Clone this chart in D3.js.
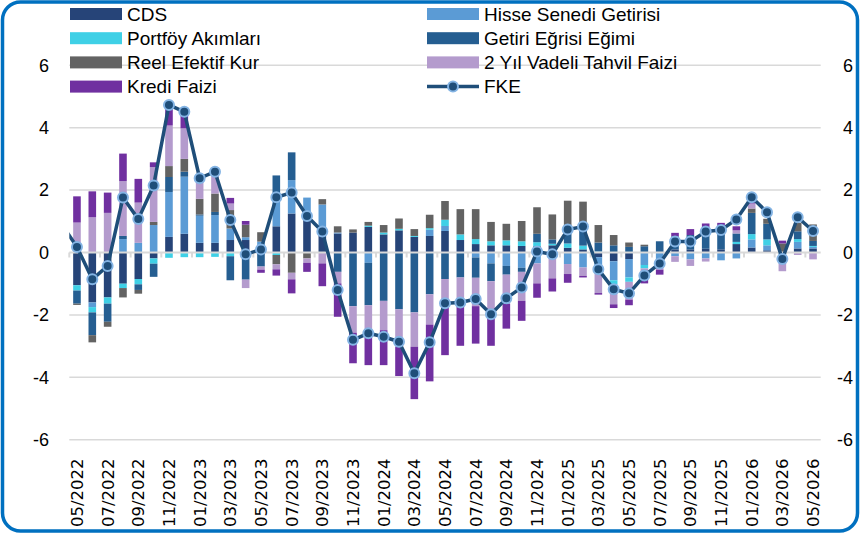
<!DOCTYPE html>
<html>
<head>
<meta charset="utf-8">
<script src="https://cdn.jsdelivr.net/npm/d3@7"></script>
<style>
  html, body { margin: 0; padding: 0; background: #fff; }
  svg { display: block; }
</style>
</head>
<body>
<svg id="chart"></svg>
<script>
const width = 862, height = 536;

// months on the category axis
const months = ['05/2022','06/2022','07/2022','08/2022','09/2022','10/2022','11/2022','12/2022',
  '01/2023','02/2023','03/2023','04/2023','05/2023','06/2023','07/2023','08/2023','09/2023','10/2023','11/2023','12/2023',
  '01/2024','02/2024','03/2024','04/2024','05/2024','06/2024','07/2024','08/2024','09/2024','10/2024','11/2024','12/2024',
  '01/2025','02/2025','03/2025','04/2025','05/2025','06/2025','07/2025','08/2025','09/2025','10/2025','11/2025','12/2025',
  '01/2026','02/2026','03/2026','04/2026','05/2026'];

const cds    = [-1.05,-1.6,-1.44,-1.0,-0.85,-0.19,0.5,0.6, 0.31,0.31,0.4,0.4,0.05,0.84,1.25,1.09,0.6,0.61,0.64,0.82,
  0.58,0.71,0.5,0.53,0.69,0.4,0.27,0.23,0.23,0.21,0.2,0.23, 0.15,0.1,-0.15,-0.28,-0.21,0,0,0.1,0.1,0.12,0.1,0.27, 0.16,0.07,0,0.13,0.13];
const hisse  = [0,-0.15,0,0.43,0.31,0.88,1.44,1.83, 0.87,0.89,0.37,0.09,0.3,0.83,1.07,0.67,0.94,0.03,0,-0.33,
  0,0,0,0.2,0.16,0,-0.16,-0.35,-0.43,-0.49,-0.35,-0.05, -0.37,-0.48,-0.45,-0.61,-0.59,-0.4,-0.45,-0.12,-0.22,-0.19,-0.25,-0.19, 0.26,0.16,-0.2,0.21,0.05];
const portfoy = [-0.17,-0.17,-0.2,-0.14,-0.17,-0.17,-0.17,-0.15, -0.15,-0.14,-0.12,0,0,-0.08,0,0,0,0,0,0.04,
  0.06,0.05,0.03,0.05,0.2,0.18,0.16,0.13,0.16,0.15,0.13,0.05, 0.14,0.12,0.03,-0.13,-0.14,-0.11,0,0,0,0,0,0.07, 0.17,0.19,0,0.09,0.03];
const getiri = [-0.42,-0.73,-0.58,0.1,-0.18,-0.42,0.48,0.16, 0.04,0.1,-0.77,-0.87,-0.45,0.8,0.89,0,0,-0.62,-1.72,-1.36,
  -1.55,-1.82,-1.92,-1.34,-0.85,-0.8,-0.65,-0.57,-0.28,-0.13,0.27,0.14, 0.55,0.66,0.29,0.23,0.18,0.2,0.36,0.42,0.46,0.62,0.62,0.27, 0.68,0.5,0,0.25,0.16];
const reel   = [-0.04,-0.23,-0.16,-0.3,-0.12,0.1,0.35,0.41, 0.5,0.59,0.59,0.4,0.3,-0.3,-0.65,-0.19,0.17,0.2,0.1,0.12,
  0.24,0.33,0.22,0.43,0.6,0.81,0.96,0.62,0.53,0.65,0.85,0.8, 0.82,0.75,0.56,0.33,0.14,0.05,0,0,0,0,0,0, 0.14,0.16,0.29,0.27,0.53];
const tahvil2y = [0.96,1.13,1.27,1.76,1.29,1.76,1.3,0.98, 0.65,0.75,0.21,-0.27,-0.1,-0.16,-0.21,-0.14,-0.35,-0.37,-0.85,-1.0,
  -0.94,-1.21,-1.1,-0.97,-0.78,-0.88,-0.91,-0.93,-0.93,-0.93,-0.64,-0.78, -0.32,-0.27,-0.7,-0.64,-0.57,-0.35,-0.1,-0.18,-0.21,-0.1,0.08,0.1, 0.16,0,-0.4,-0.08,-0.22];
const kredi  = [0.84,0.83,0.65,0.88,0.76,0.15,0.75,0.55, 0.1,0,0.18,0.12,-0.1,-0.2,-0.45,-0.29,-0.73,-1.07,-0.98,-0.92,
  -1.12,-0.93,-1.68,-1.82,-1.66,-1.31,-1.2,-1.14,-0.8,-0.64,-0.46,-0.42, -0.28,-0.05,-0.05,-0.12,-0.18,-0.13,-0.16,0.11,0.19,0.19,0.15,0.13, 0.06,0,0.09,0,0];
const fke    = [0.18,-0.86,-0.43,1.76,1.07,2.15,4.73,4.51, 2.38,2.59,1.04,-0.06,0.1,1.77,1.92,1.17,0.67,-1.2,-2.8,-2.59,
  -2.7,-2.86,-3.87,-2.88,-1.63,-1.6,-1.49,-1.98,-1.47,-1.12,0.03,-0.06, 0.74,0.83,-0.54,-1.18,-1.31,-0.74,-0.35,0.35,0.35,0.67,0.72,1.06, 1.77,1.29,-0.21,1.13,0.69];
const fkePrev = 0.9; // 04/2022, only the line segment entering the plot

const seriesNames = ['CDS','Hisse Senedi Getirisi','Portföy Akımları','Getiri Eğrisi Eğimi','Reel Efektif Kur','2 Yıl Vadeli Tahvil Faizi','Kredi Faizi'];
const seriesVals = [cds, hisse, portfoy, getiri, reel, tahvil2y, kredi];
const colors = ['#264478','#5B9BD5','#3FD0E6','#255E91','#636363','#B49BCD','#7030A0'];
const yTicks = [-6,-4,-2,0,2,4,6];

const svg = d3.select('#chart').attr('width', width).attr('height', height);

const x = d3.scaleLinear().domain([-0.5, months.length - 0.5]).range([69.3, 820.7]);
const y = d3.scaleLinear().domain([-6, 6]).range([439.7, 65.3]);
const barW = 7.6;

// frame
svg.append('rect').attr('x', 2.5).attr('y', 2).attr('width', 855).attr('height', 529)
  .attr('rx', 18).attr('fill', 'none').attr('stroke', '#0070C0').attr('stroke-width', 3.5);

// grid
svg.append('g').selectAll('line').data(yTicks.filter(d => d !== 0)).join('line')
  .attr('x1', x.range()[0]).attr('x2', x.range()[1])
  .attr('y1', d => y(d)).attr('y2', d => y(d))
  .attr('stroke', '#D9D9D9').attr('stroke-width', 1.5);

// y labels both sides
const yl = svg.append('g').style('font-family', 'Liberation Sans, Arial, sans-serif').style('font-size', '18px').attr('fill', '#000');
yl.selectAll('text.l').data(yTicks).join('text').attr('class', 'l')
  .attr('x', 49).attr('y', d => y(d)).attr('dy', '0.35em').attr('text-anchor', 'end').text(d => d);
yl.selectAll('text.r').data(yTicks).join('text').attr('class', 'r')
  .attr('x', 853).attr('y', d => y(d)).attr('dy', '0.35em').attr('text-anchor', 'end').text(d => d);

// stacked bars
const rows = months.map((m, i) => {
  const r = { i: i };
  seriesNames.forEach((s, k) => { r[s] = seriesVals[k][i]; });
  return r;
});
const stacked = d3.stack().keys(seriesNames).order(d3.stackOrderNone).offset(d3.stackOffsetDiverging)(rows);

svg.append('g').selectAll('g').data(stacked).join('g')
  .attr('fill', (d, k) => colors[k])
  .selectAll('rect').data(d => d).join('rect')
  .attr('x', d => x(d.data.i) - barW / 2)
  .attr('width', barW)
  .attr('y', d => y(Math.max(d[0], d[1])))
  .attr('height', d => Math.abs(y(d[0]) - y(d[1])));

// zero axis + ticks
svg.append('line').attr('x1', x.range()[0]).attr('x2', x.range()[1])
  .attr('y1', y(0)).attr('y2', y(0)).attr('stroke', '#D9D9D9').attr('stroke-width', 2);
svg.append('g').selectAll('line').data(d3.range(0, 25)).join('line')
  .attr('x1', k => x(-0.5 + 2 * k)).attr('x2', k => x(-0.5 + 2 * k))
  .attr('y1', y(0)).attr('y2', y(0) + 5)
  .attr('stroke', '#D9D9D9').attr('stroke-width', 2);

// FKE line
svg.append('clipPath').attr('id', 'plotClip').append('rect')
  .attr('x', x.range()[0]).attr('y', 0).attr('width', x.range()[1] - x.range()[0] + 10).attr('height', height);
const linePts = [[-1, fkePrev]].concat(fke.map((v, i) => [i, v]));
svg.append('path').datum(linePts)
  .attr('clip-path', 'url(#plotClip)')
  .attr('d', d3.line().x(d => x(d[0])).y(d => y(d[1])))
  .attr('fill', 'none').attr('stroke', '#1F4E79').attr('stroke-width', 3.5).attr('stroke-linejoin', 'round');
svg.append('g').selectAll('circle').data(fke).join('circle')
  .attr('cx', (d, i) => x(i)).attr('cy', d => y(d)).attr('r', 5)
  .attr('fill', '#1F4E79').attr('stroke', '#84B4E4').attr('stroke-width', 2);

// x labels (every 2 months)
svg.append('g').style('font-family', 'DejaVu Sans, Verdana, sans-serif').style('font-size', '16.5px')
  .selectAll('text').data(months.filter((m, i) => i % 2 === 0)).join('text')
  .attr('transform', (m) => `translate(${x(months.indexOf(m))},527) rotate(-90)`)
  .attr('dy', '0.36em').attr('text-anchor', 'start').text(m => m);

// legend
const legendItems = [
  { name: 'CDS', col: 0, row: 0, k: 0 },
  { name: 'Hisse Senedi Getirisi', col: 1, row: 0, k: 1 },
  { name: 'Portföy Akımları', col: 0, row: 1, k: 2 },
  { name: 'Getiri Eğrisi Eğimi', col: 1, row: 1, k: 3 },
  { name: 'Reel Efektif Kur', col: 0, row: 2, k: 4 },
  { name: '2 Yıl Vadeli Tahvil Faizi', col: 1, row: 2, k: 5 },
  { name: 'Kredi Faizi', col: 0, row: 3, k: 6 },
  { name: 'FKE', col: 1, row: 3, k: -1 }
];
const colX = [70, 427];
const lg = svg.append('g').style('font-family', 'Liberation Sans, Arial, sans-serif').style('font-size', '19px');
legendItems.forEach(it => {
  const gx = colX[it.col], gy = 14 + it.row * 24.2;
  if (it.k >= 0) {
    lg.append('rect').attr('x', gx).attr('y', gy - 6).attr('width', 52).attr('height', 12).attr('fill', colors[it.k]);
  } else {
    lg.append('line').attr('x1', gx).attr('x2', gx + 52).attr('y1', gy).attr('y2', gy)
      .attr('stroke', '#1F4E79').attr('stroke-width', 3.5);
    lg.append('circle').attr('cx', gx + 26).attr('cy', gy).attr('r', 5)
      .attr('fill', '#1F4E79').attr('stroke', '#84B4E4').attr('stroke-width', 2);
  }
  lg.append('text').attr('x', gx + 57).attr('y', gy).attr('dy', '0.35em').text(it.name);
});
</script>
</body>
</html>
